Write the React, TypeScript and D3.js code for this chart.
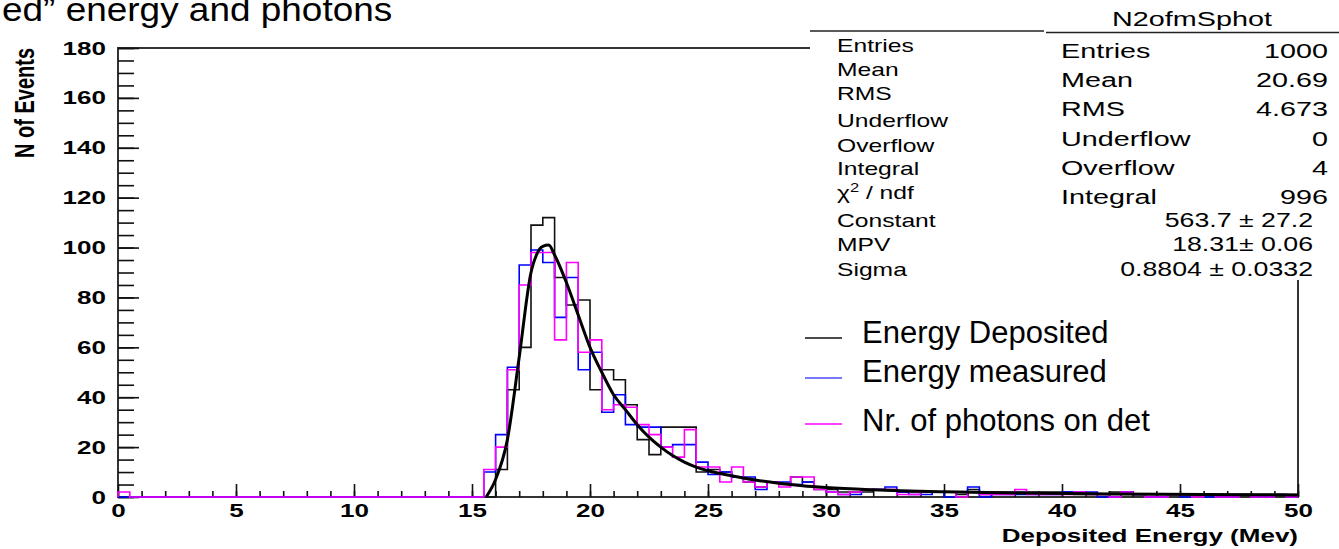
import { useEffect, useRef } from "react";
import * as d3 from "d3";

// Contenidos de los histogramas: 100 bins de 0.5 MeV entre 0 y 50
const energyDeposited = [
  0, 0, 0, 0, 0, 0, 0, 0, 0, 0, 0, 0, 0, 0, 0, 0, 0, 0, 0, 0, 0, 0, 0, 0, 0, 0, 0, 0, 0, 0,
  0, 0, 11, 43, 60, 109, 112, 88, 77, 79,
  43, 51, 47, 37, 23, 17, 28, 28, 28, 10,
  11, 10, 8, 6, 4, 6, 5, 8, 6, 3,
  3, 2, 2, 2, 3, 3, 2, 2, 2, 2,
  2, 1, 3, 1, 2, 2, 2, 2, 2, 2,
  2, 1, 1, 1, 2, 2, 1, 1, 1, 1,
  1, 1, 1, 1, 1, 1, 1, 1, 1, 1,
];

const energyMeasured = [
  0, 0, 0, 0, 0, 0, 0, 0, 0, 0, 0, 0, 0, 0, 0, 0, 0, 0, 0, 0, 0, 0, 0, 0, 0, 0, 0, 0, 0, 0,
  0, 10, 25, 52, 93, 99, 94, 72, 88, 51,
  58, 34, 41, 29, 28, 28, 20, 21, 21, 14,
  9, 10, 8, 8, 3, 6, 6, 5, 6, 4,
  2, 1, 1, 3, 3, 4, 2, 1, 1, 2,
  0, 2, 4, 0, 1, 1, 1, 1, 1, 1,
  2, 2, 2, 0, 0, 2, 1, 0, 0, 1,
  0, 1, 0, 0, 0, 1, 0, 0, 1, 0,
];

const photonsOnDet = [
  2, 0, 0, 0, 0, 0, 0, 0, 0, 0, 0, 0, 0, 0, 0, 0, 0, 0, 0, 0, 0, 0, 0, 0, 0, 0, 0, 0, 0, 0,
  0, 11, 20, 51, 85, 98, 98, 63, 94, 58,
  63, 35, 37, 36, 29, 25, 20, 16, 27, 12,
  12, 6, 12, 6, 4, 6, 4, 8, 8, 3,
  2, 1, 2, 3, 3, 3, 1, 1, 2, 2,
  2, 0, 2, 1, 1, 1, 3, 1, 1, 1,
  1, 2, 1, 1, 0, 2, 1, 0, 0, 1,
  1, 0, 1, 0, 0, 1, 0, 0, 1, 0,
];

// Curva del ajuste (Landau)
const fitEnergy = [15.6, 16.0, 16.5, 17.0, 17.5, 17.75, 18.0, 18.25, 18.5, 19.0, 19.5, 20.0, 20.5, 21.0, 21.5, 22.0, 22.5, 23.0, 23.5, 24.0, 24.5, 25.0, 26, 27, 28, 29, 30, 32, 35, 38, 42, 46, 50];
const fitCounts = [0, 7, 23, 56, 90, 97.5, 100.5, 101, 97, 86, 73, 60, 50, 41, 35, 29, 24, 20, 16.6, 14, 12, 10.5, 8.5, 6.8, 5.5, 4.5, 3.8, 2.9, 2.1, 1.6, 1.2, 1.0, 0.8];

const xTicks = [0, 5, 10, 15, 20, 25, 30, 35, 40, 45, 50];
const yTicks = [0, 20, 40, 60, 80, 100, 120, 140, 160, 180];

const statNames = ["Entries", "Mean", "RMS", "Underflow", "Overflow", "Integral"];
const statValues = ["1000", "20.69", "4.673", "0", "4", "996"];
const fitNames = ["Constant", "MPV", "Sigma"];
const fitValues = ["563.7 \u00b1 27.2", "18.31\u00b1 0.06", "0.8804 \u00b1 0.0332"];

const legendNames = ["Energy Deposited", "Energy measured", "Nr. of photons on det"];
const seriesColors = ["#111111", "#0000ff", "#ff00ff"];

const FONT = "'Liberation Sans', Arial, Helvetica, sans-serif";
const SX = 1.37; // la imagen original está estirada en horizontal

const App = () => {
  const ref = useRef<SVGSVGElement>(null);

  useEffect(() => {
    if (!ref.current) return;
    const svg = d3.select(ref.current);
    svg.selectAll("*").remove();

    const x = d3.scaleLinear().domain([0, 50]).range([118, 1298]);
    const y = d3.scaleLinear().domain([0, 180]).range([497, 48]);
    const edges = d3.range(0, 50.001, 0.5);

    const addText = (txt: string, px: number, py: number, o: any = {}) =>
      svg
        .append("text")
        .attr("transform", `translate(${px},${py}) scale(${o.sx ?? SX},1)${o.rotate ? " rotate(-90)" : ""}`)
        .attr("text-anchor", o.anchor ?? "start")
        .style("font-family", FONT)
        .style("font-size", `${o.size ?? 18}px`)
        .style("font-weight", o.bold ? "bold" : "normal")
        .attr("fill", "#000")
        .text(txt);

    // Título de la diapositiva (cortado arriba)
    addText("ed\u201d energy and photons", 2, 21, { size: 33, sx: 1.12 });

    // Marco
    svg
      .append("rect")
      .attr("x", x(0))
      .attr("y", y(180))
      .attr("width", x(50) - x(0))
      .attr("height", y(0) - y(180))
      .attr("fill", "none")
      .attr("stroke", "#333")
      .attr("stroke-width", 2);

    // Ejes: ticks hacia dentro
    const gx = svg.append("g").attr("transform", `translate(0,${y(0)})`);
    gx.call(d3.axisBottom(x).tickValues(d3.range(0, 51, 1)).tickSize(-6).tickFormat(() => ""));
    gx.append("g").call(
      d3.axisBottom(x).tickValues(xTicks).tickSize(-13).tickPadding(7).tickFormat(d3.format("d"))
    );
    gx.selectAll(".domain").remove();
    gx.selectAll("line").attr("stroke", "#111").attr("stroke-width", 1.6);
    gx.selectAll("text")
      .attr("transform", `scale(${SX},1)`)
      .style("font-family", FONT)
      .style("font-size", "19px")
      .style("font-weight", "bold")
      .attr("fill", "#000");

    const gy = svg.append("g").attr("transform", `translate(${x(0)},0)`);
    gy.call(d3.axisLeft(y).tickValues(d3.range(0, 181, 5)).tickSize(-16).tickFormat(() => ""));
    gy.append("g").call(
      d3.axisLeft(y).tickValues(yTicks).tickSize(-21).tickPadding(8.8).tickFormat(d3.format("d"))
    );
    gy.selectAll(".domain").remove();
    gy.selectAll("line").attr("stroke", "#111").attr("stroke-width", 1.6);
    gy.selectAll("text")
      .attr("transform", `scale(${SX},1)`)
      .style("font-family", FONT)
      .style("font-size", "19px")
      .style("font-weight", "bold")
      .attr("fill", "#000");

    // Títulos de ejes
    addText("Deposited Energy (Mev)", x(50), 542, { size: 19, bold: true, anchor: "end" });
    addText("N of Events", 34, y(180), { size: 20, bold: true, anchor: "end", rotate: true });

    // Histogramas como contornos escalonados
    const stepLine = d3
      .line<[number, number]>()
      .x((d) => x(d[0]))
      .y((d) => y(d[1]));

    [energyDeposited, energyMeasured, photonsOnDet].forEach((serie, k) => {
      const pts: [number, number][] = [[0, 0]];
      serie.forEach((v, i) => {
        pts.push([edges[i], v]);
        pts.push([edges[i + 1], v]);
      });
      pts.push([50, 0]);
      svg
        .append("path")
        .attr("d", stepLine(pts))
        .attr("fill", "none")
        .attr("stroke", seriesColors[k])
        .attr("stroke-width", 1.6);
    });

    // Ajuste
    const fitLine = d3
      .line<number>()
      .x((d) => x(d))
      .y((d, i) => y(fitCounts[i]))
      .curve(d3.curveMonotoneX);
    svg
      .append("path")
      .attr("d", fitLine(fitEnergy))
      .attr("fill", "none")
      .attr("stroke", "#000")
      .attr("stroke-width", 3);

    // Caja de estadísticas
    svg.append("rect").attr("x", 810).attr("y", 0).attr("width", 529).attr("height", 280).attr("fill", "#fff");
    svg.append("line").attr("x1", 810).attr("x2", 1044).attr("y1", 31).attr("y2", 31).attr("stroke", "#222").attr("stroke-width", 1.5);
    svg.append("line").attr("x1", 1046).attr("x2", 1339).attr("y1", 32.5).attr("y2", 32.5).attr("stroke", "#222").attr("stroke-width", 1.5);
    addText("N2ofmSphot", 1192, 26, { size: 21, anchor: "middle" });

    const leftRows = [52, 76, 100, 127, 152, 175, 199, 227, 251, 276];
    const leftNames = [...statNames, "chi", ...fitNames];
    leftNames.forEach((name, i) => {
      if (name === "chi") {
        const t = addText("", 837, leftRows[i], { size: 18 });
        t.append("tspan").text("\u03c7");
        t.append("tspan").attr("dy", -7).style("font-size", "12px").text("2");
        t.append("tspan").attr("dy", 7).text(" / ndf");
      } else {
        addText(name, 837, leftRows[i], { size: 18 });
      }
    });

    statNames.forEach((name, i) => {
      const by = 58 + i * 29.2;
      addText(name, 1061, by, { size: 21 });
      addText(statValues[i], 1328, by, { size: 21, anchor: "end" });
    });
    fitValues.forEach((v, i) => {
      addText(v, 1313, leftRows[7 + i], { size: 19.5, anchor: "end" });
    });

    // Leyenda
    const legendLineY = [338, 378, 424];
    const legendTextY = [343, 382, 431];
    legendNames.forEach((name, i) => {
      svg
        .append("line")
        .attr("x1", 805)
        .attr("x2", 842)
        .attr("y1", legendLineY[i])
        .attr("y2", legendLineY[i])
        .attr("stroke", i === 1 ? "#4a4aff" : seriesColors[i])
        .attr("stroke-width", 1.3);
      addText(name, 862, legendTextY[i], { size: 31, sx: 1 });
    });
  }, []);

  return (
    <svg
      ref={ref}
      width={1339}
      height={549}
      style={{ position: "absolute", left: 0, top: 0, background: "#fff" }}
    />
  );
};

export default App;
